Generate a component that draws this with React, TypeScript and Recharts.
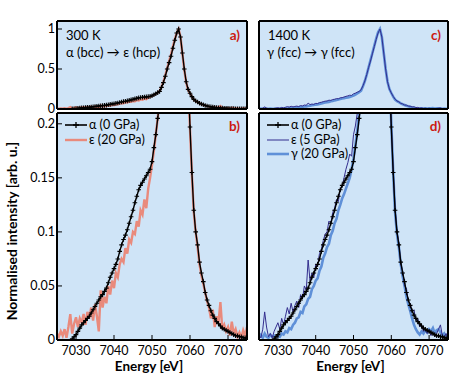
import React from "react";
import { LineChart, Line, XAxis, YAxis, CartesianGrid, Legend } from "recharts";

// energy grid [eV]
const energy = [
  7025, 7025.5, 7026, 7026.5, 7027, 7027.5, 7028, 7028.5, 7029, 7029.5,
  7030, 7030.5, 7031, 7031.5, 7032, 7032.5, 7033, 7033.5, 7034, 7034.5,
  7035, 7035.5, 7036, 7036.5, 7037, 7037.5, 7038, 7038.5, 7039, 7039.5,
  7040, 7040.5, 7041, 7041.5, 7042, 7042.5, 7043, 7043.5, 7044, 7044.5,
  7045, 7045.5, 7046, 7046.5, 7047, 7047.5, 7048, 7048.5, 7049, 7049.5,
  7050, 7050.5, 7051, 7051.5, 7052, 7052.5, 7053, 7053.5, 7054, 7054.5,
  7055, 7055.5, 7056, 7056.5, 7057, 7057.5, 7058, 7058.5, 7059, 7059.5,
  7060, 7060.5, 7061, 7061.5, 7062, 7062.5, 7063, 7063.5, 7064, 7064.5,
  7065, 7065.5, 7066, 7066.5, 7067, 7067.5, 7068, 7068.5, 7069, 7069.5,
  7070, 7070.5, 7071, 7071.5, 7072, 7072.5, 7073, 7073.5, 7074, 7074.5,
  7075,
];

// alpha (0 GPa), reference spectrum
const alpha0 = [
  null, null, null, null, null, null, null, null, 0.001, 0.003,
  0.005, 0.008, 0.011, 0.014, 0.016, 0.018, 0.02, 0.022, 0.025, 0.028,
  0.031, 0.034, 0.037, 0.04, 0.042, 0.045, 0.048, 0.053, 0.058, 0.062,
  0.066, 0.07, 0.075, 0.082, 0.088, 0.093, 0.097, 0.102, 0.108, 0.114,
  0.12, 0.127, 0.133, 0.139, 0.143, 0.146, 0.149, 0.152, 0.155, 0.158,
  0.165, 0.178, 0.19, 0.205, 0.22, 0.27, 0.33, 0.41, 0.5, 0.58,
  0.66, 0.76, 0.86, 0.95, 1.0, 0.9, 0.7, 0.5, 0.34, 0.245,
  0.197, 0.155, 0.12, 0.1, 0.088, 0.072, 0.062, 0.054, 0.044, 0.037,
  0.032, 0.027, 0.023, 0.02, 0.017, 0.015, 0.013, 0.011, 0.01, 0.009,
  0.008, 0.007, 0.006, 0.005, 0.004, 0.004, 0.003, 0.003, 0.002, 0.002,
  0.001,
];

// epsilon (20 GPa), 300 K
const eps20 = [
  0.006, 0.003, 0.008, 0.004, 0.01, 0.002, 0.012, 0.024, 0.006, 0.015,
  0.021, 0.012, 0.02, 0.016, 0.024, 0.014, 0.026, 0.02, 0.03, 0.018,
  0.033, 0.022, 0.008, 0.046, 0.03, 0.04, 0.034, 0.05, 0.042, 0.055,
  0.048, 0.062, 0.058, 0.07, 0.075, 0.072, 0.085, 0.08, 0.093, 0.09,
  0.1, 0.098, 0.11, 0.105, 0.12, 0.116, 0.13, 0.122, 0.14, 0.15,
  0.162, 0.175, 0.19, 0.205, 0.225, 0.275, 0.34, 0.42, 0.51, 0.6,
  0.68, 0.78, 0.87, 0.95, 1.0, 0.9, 0.69, 0.49, 0.33, 0.24,
  0.195, 0.153, 0.118, 0.1, 0.086, 0.07, 0.06, 0.052, 0.044, 0.036,
  0.03, 0.02, 0.028, 0.012, 0.022, 0.016, 0.035, 0.01, 0.014, 0.008,
  0.012, 0.004, 0.017, 0.006, 0.01, 0.003, 0.007, 0.002, 0.009, 0.004,
  0.012,
];

// epsilon (5 GPa), 1400 K
const eps5 = [
  0.004, 0.002, 0.01, 0.026, 0.012, 0.003, 0.006, 0.002, 0.008, 0.012,
  0.016, 0.01, 0.02, 0.014, 0.022, 0.03, 0.024, 0.034, 0.026, 0.032,
  0.036, 0.03, 0.042, 0.038, 0.05, 0.046, 0.074, 0.055, 0.062, 0.058,
  0.07, 0.068, 0.08, 0.084, 0.092, 0.098, 0.1, 0.11, 0.108, 0.118,
  0.122, 0.13, 0.128, 0.14, 0.142, 0.15, 0.158, 0.164, 0.172, 0.17,
  0.19, 0.198, 0.21, 0.22, 0.24, 0.29, 0.35, 0.43, 0.52, 0.6,
  0.69, 0.78, 0.87, 0.95, 1.0, 0.9, 0.7, 0.5, 0.34, 0.25,
  0.2, 0.158, 0.122, 0.1, 0.09, 0.07, 0.064, 0.05, 0.048, 0.036,
  0.034, 0.026, 0.028, 0.018, 0.02, 0.012, 0.014, 0.008, 0.01, 0.006,
  0.009, 0.004, 0.007, 0.003, 0.006, 0.01, 0.014, 0.004, 0.003, 0.006,
  0.002,
];

// gamma (20 GPa), 1400 K
const gamma20 = [
  0.003, 0.005, 0.002, 0.006, 0.003, 0.002, 0.005, 0.003, 0.004, 0.002,
  0.004, 0.003, 0.006, 0.005, 0.008, 0.007, 0.011, 0.01, 0.014, 0.016,
  0.02, 0.021, 0.026, 0.025, 0.031, 0.033, 0.038, 0.04, 0.047, 0.05,
  0.055, 0.057, 0.064, 0.068, 0.076, 0.08, 0.086, 0.089, 0.097, 0.101,
  0.108, 0.112, 0.12, 0.125, 0.131, 0.135, 0.14, 0.145, 0.15, 0.158,
  0.168, 0.18, 0.194, 0.21, 0.23, 0.285, 0.35, 0.43, 0.52, 0.61,
  0.7, 0.79, 0.88, 0.96, 1.0, 0.9, 0.7, 0.5, 0.34, 0.25,
  0.2, 0.155, 0.118, 0.098, 0.086, 0.07, 0.059, 0.05, 0.04, 0.033,
  0.027, 0.02, 0.014, 0.01, 0.007, 0.005, 0.008, 0.006, 0.009, 0.007,
  0.01, 0.008, 0.011, 0.006, 0.009, 0.01, 0.007, 0.004, 0.006, 0.003,
  0.002,
];

const xMajor = [7030, 7040, 7050, 7060, 7070];
const xMinor = [7027.5, 7032.5, 7035, 7037.5, 7042.5, 7045, 7047.5, 7052.5, 7055, 7057.5, 7062.5, 7065, 7067.5, 7072.5];
const yTopLabelled = [0, 0.5, 1];
const yTopTicks = [0.2, 0.4, 0.6, 0.8, 1];
const yZoomTicks = [0, 0.05, 0.1, 0.15, 0.2];
const yZoomMinor = [0.025, 0.075, 0.125, 0.175];

const rows = energy.map((e, i) => ({
  e,
  alpha: alpha0[i],
  eps20: eps20[i],
  eps5: eps5[i],
  gamma: gamma20[i],
}));

const FONT = "Lato, 'DejaVu Sans', sans-serif";
const BG = "#cfe4f7";
const W = 461;
const H = 386;

type Series = { key: string; name: string; color: string; width: number; marker?: boolean };

const sAlpha: Series = { key: "alpha", name: "α (0 GPa)", color: "#000", width: 1.4, marker: true };
const sEps20: Series = { key: "eps20", name: "ε (20 GPa)", color: "#e98a7c", width: 2.4 };
const sEps5: Series = { key: "eps5", name: "ε (5 GPa)", color: "#332d8e", width: 1 };
const sGamma: Series = { key: "gamma", name: "γ (20 GPa)", color: "#5f90d8", width: 2.6 };

function PlusDot(props: any) {
  const { cx, cy, value, index } = props;
  if (cx == null || cy == null || value == null) return <g key={`n-${index}`} />;
  return (
    <path
      key={`p-${index}`}
      d={`M${cx - 2.3},${cy}h4.6M${cx},${cy - 2.3}v4.6`}
      stroke="#000"
      strokeWidth={1.1}
    />
  );
}

function LegendBox({ items }: { items: Series[] }) {
  return (
    <div style={{ fontFamily: FONT, fontSize: 12.5, lineHeight: "14.5px", color: "#000" }}>
      {items.map((s) => (
        <div key={s.key} style={{ display: "flex", alignItems: "center", height: 14.5 }}>
          <svg width={22} height={10} style={{ marginRight: 2 }}>
            <line x1={0} y1={5} x2={22} y2={5} stroke={s.color} strokeWidth={s.marker ? 1.6 : s.width} />
            {s.marker && <path d="M11,2v6M8,5h6" stroke="#000" strokeWidth={1.3} />}
          </svg>
          <span style={{ whiteSpace: "nowrap" }}>{s.name}</span>
        </div>
      ))}
    </div>
  );
}

type PanelProps = {
  box: [number, number, number, number]; // left, top, right, bottom
  yDomain: [number, number];
  yTicks: number[];
  yMinor: number[];
  yLabels: boolean;
  xLabels: boolean;
  series: Series[];
  legend?: { items: Series[]; left: number; top: number };
};

function Panel({ box, yDomain, yTicks, yMinor, yLabels, xLabels, series, legend }: PanelProps) {
  const [l, t, r, b] = box;
  const axisLine = { stroke: "#000", strokeWidth: 2 };
  const tickLine = { stroke: "#000", strokeWidth: 1 };
  const tickText = { fill: "#000", fontSize: 12.5, fontFamily: FONT };
  // each side carries two 1px axes (major + minor)
  return (
    <div style={{ position: "absolute", left: 0, top: 0 }}>
      <LineChart
        width={W}
        height={H}
        data={rows}
        margin={{ left: l - 2, top: t - 2, right: W - r - 2, bottom: H - b - 2 }}
        style={{ fontFamily: FONT }}
      >
        <CartesianGrid xAxisId="x" yAxisId="y" fill={BG} stroke="none" horizontal={false} vertical={false} />
        <XAxis
          xAxisId="x" dataKey="e" type="number" domain={[7025, 7075]} allowDataOverflow
          ticks={xMajor} interval={0} height={1} tickSize={-5} tickMargin={11}
          tick={xLabels ? tickText : false} axisLine={axisLine} tickLine={tickLine}
          label={xLabels ? { value: "Energy [eV]", position: "bottom", offset: 20, dx: -3, style: { fontFamily: FONT, fontSize: 13.5, fontWeight: 700, fill: "#000" } } : undefined}
        />
        <XAxis
          xAxisId="xm" dataKey="e" type="number" domain={[7025, 7075]} allowDataOverflow
          ticks={xMinor} interval={0} height={1} tickSize={-3.5} tick={false} axisLine={false} tickLine={tickLine}
        />
        <XAxis
          xAxisId="xt" orientation="top" dataKey="e" type="number" domain={[7025, 7075]} allowDataOverflow
          ticks={xMajor} interval={0} height={1} tickSize={-5} tick={false} axisLine={axisLine} tickLine={tickLine}
        />
        <XAxis
          xAxisId="xtm" orientation="top" dataKey="e" type="number" domain={[7025, 7075]} allowDataOverflow
          ticks={xMinor} interval={0} height={1} tickSize={-3.5} tick={false} axisLine={false} tickLine={tickLine}
        />
        <YAxis
          yAxisId="y" type="number" domain={yDomain} allowDataOverflow ticks={yTicks} interval={0}
          width={1} tickSize={-5} tickMargin={7} tick={yLabels ? tickText : false} axisLine={axisLine} tickLine={tickLine}
        />
        <YAxis
          yAxisId="ym" type="number" domain={yDomain} allowDataOverflow ticks={yMinor.length ? yMinor : [yDomain[1]]} interval={0}
          width={1} tickSize={-3.5} tick={false} axisLine={false} tickLine={yMinor.length ? tickLine : false}
        />
        <YAxis
          yAxisId="yr" orientation="right" type="number" domain={yDomain} allowDataOverflow ticks={yTicks} interval={0}
          width={1} tickSize={-5} tick={false} axisLine={axisLine} tickLine={tickLine}
        />
        <YAxis
          yAxisId="yrm" orientation="right" type="number" domain={yDomain} allowDataOverflow ticks={yMinor.length ? yMinor : [yDomain[1]]} interval={0}
          width={1} tickSize={-3.5} tick={false} axisLine={false} tickLine={yMinor.length ? tickLine : false}
        />
        {series.map((s) => (
          <Line
            key={s.key}
            xAxisId="x"
            yAxisId="y"
            type="linear"
            dataKey={s.key}
            name={s.name}
            stroke={s.color}
            strokeWidth={s.width}
            dot={s.marker ? PlusDot : false}
            activeDot={false}
            connectNulls={false}
            isAnimationActive={false}
          />
        ))}
        {legend && (
          <Legend
            layout="vertical"
            align="center"
            verticalAlign="middle"
            wrapperStyle={{ left: legend.left, top: legend.top, width: 100 }}
            content={() => <LegendBox items={legend.items} />}
          />
        )}
      </LineChart>
    </div>
  );
}

export default function App() {
  const label = { fontFamily: FONT, fontSize: 13, fill: "#000" };
  const tag = { fontFamily: FONT, fontSize: 13.5, fontWeight: 700, fill: "#cc1a10" };
  return (
    <div style={{ position: "absolute", left: 0, top: 0, width: W, height: H, background: "#fff" }}>
      <Panel box={[57, 21, 247, 109]} yDomain={[0, 1.1]} yTicks={yTopLabelled} yMinor={[]} yLabels xLabels={false} series={[sEps20, sAlpha]} />
      <Panel box={[57, 113, 247, 340]} yDomain={[0, 0.21]} yTicks={yZoomTicks} yMinor={yZoomMinor} yLabels xLabels series={[sEps20, sAlpha]}
        legend={{ items: [sAlpha, sEps20], left: 65, top: 118 }} />
      <Panel box={[259, 21, 448, 109]} yDomain={[0, 1.1]} yTicks={yTopTicks} yMinor={[]} yLabels={false} xLabels={false} series={[sGamma, sEps5]} />
      <Panel box={[259, 113, 448, 340]} yDomain={[0, 0.21]} yTicks={yZoomTicks} yMinor={yZoomMinor} yLabels={false} xLabels series={[sGamma, sEps5, sAlpha]}
        legend={{ items: [sAlpha, sEps5, sGamma], left: 267, top: 118 }} />
      <svg width={W} height={H} style={{ position: "absolute", left: 0, top: 0, pointerEvents: "none" }}>
        <text x={66} y={40} style={label}>300 K</text>
        <text x={66} y={57} style={label}>α (bcc) → ε (hcp)</text>
        <text x={268} y={40} style={label}>1400 K</text>
        <text x={267} y={57} style={label}>γ (fcc) → γ (fcc)</text>
        <text x={240} y={40} textAnchor="end" style={tag}>a)</text>
        <text x={240} y={131} textAnchor="end" style={tag}>b)</text>
        <text x={441} y={40} textAnchor="end" style={tag}>c)</text>
        <text x={441} y={131} textAnchor="end" style={tag}>d)</text>
        <text
          x={17} y={231} textAnchor="middle" transform="rotate(-90 17 231)"
          style={{ fontFamily: FONT, fontSize: 14, fontWeight: 700, fill: "#000" }}
        >
          Normalised intensity [arb. u.]
        </text>
      </svg>
    </div>
  );
}
